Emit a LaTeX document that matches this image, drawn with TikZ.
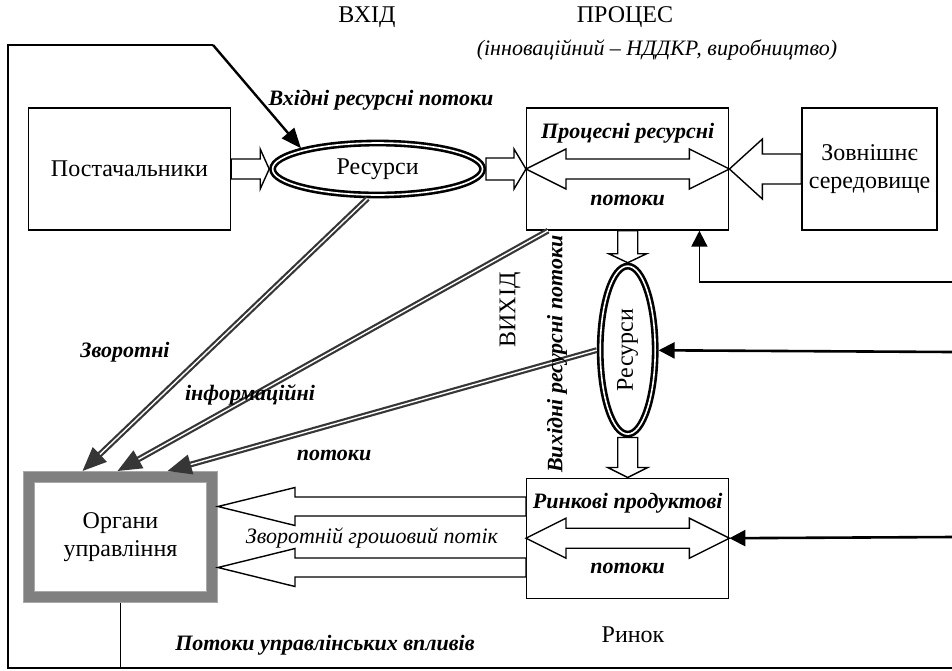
\documentclass[tikz,border=0pt]{standalone}
\usepackage{fontspec}
\setmainfont{Liberation Serif}
\usetikzlibrary{shapes.geometric, arrows.meta, positioning, calc}

\definecolor{infogray}{HTML}{363636}
\definecolor{bandgray}{HTML}{808080}
\definecolor{rimgray}{HTML}{A8A8A8}

% hollow block arrows: tail, tip, shaft half width, head half width, head length
\newcommand{\harrow}[5]{%
  \draw[blkarrow] let \p1=(#1), \p2=(#2), \n1={sign(\x2-\x1)} in
    ({\x1},{\y2+#3}) -- ({\x2-\n1*#5},{\y2+#3}) -- ({\x2-\n1*#5},{\y2+#4}) -- (\x2,\y2)
    -- ({\x2-\n1*#5},{\y2-#4}) -- ({\x2-\n1*#5},{\y2-#3}) -- ({\x1},{\y2-#3}) -- cycle;}
\newcommand{\varrow}[5]{%
  \draw[blkarrow] let \p1=(#1), \p2=(#2), \n1={sign(\y2-\y1)} in
    ({\x2+#3},{\y1}) -- ({\x2+#3},{\y2-\n1*#5}) -- ({\x2+#4},{\y2-\n1*#5}) -- (\x2,\y2)
    -- ({\x2-#4},{\y2-\n1*#5}) -- ({\x2-#3},{\y2-\n1*#5}) -- ({\x2-#3},{\y1}) -- cycle;}
% two-headed block arrow: left tip, right tip, shaft half, head half, head length
\newcommand{\dblarrow}[5]{%
  \draw[blkarrow] let \p1=(#1), \p2=(#2) in
    (\x1,\y1) -- ({\x1+#5},{\y1+#4}) -- ({\x1+#5},{\y1+#3}) -- ({\x2-#5},{\y1+#3})
    -- ({\x2-#5},{\y1+#4}) -- (\x2,\y1) -- ({\x2-#5},{\y1-#4}) -- ({\x2-#5},{\y1-#3})
    -- ({\x1+#5},{\y1-#3}) -- ({\x1+#5},{\y1-#4}) -- cycle;}

\begin{document}
\begin{tikzpicture}[x=0.5pt, y=-0.5pt,
    every node/.style={font=\fontsize{12}{14}\selectfont},
    box/.style={draw, line width=0.7pt, minimum width=101pt, minimum height=61pt, align=center, inner sep=1pt},
    resell/.style={ellipse, draw, line width=1.3pt, double=white, double distance=0.8pt, inner sep=0pt, outer sep=1.7pt},
    orgbox/.style={draw=rimgray, line width=0.6pt, double=bandgray, double distance=4.8pt, outer sep=3pt,
        minimum width=91.5pt, minimum height=60pt, align=center},
    lbl/.style={font=\fontsize{11}{13}\selectfont\bfseries\itshape},
    itl/.style={font=\fontsize{11}{13}\selectfont\itshape},
    blkarrow/.style={draw, line width=0.7pt, fill=white, line join=miter},
    info/.style={draw=infogray, double=white, double distance=0.7pt, line width=1.1pt,
        -{Triangle[length=12pt, width=10pt, fill=infogray]}},
    ctrl/.style={draw, line width=1.3pt, -{Triangle[length=8pt, width=8pt]}},
    frame/.style={draw, line width=0.7pt}]
    \useasboundingbox (0,0) rectangle (952,670);

    % headings
    \node (hin) at (367,17) {ВХІД};
    \node (hproc) at (625,17) {ПРОЦЕС};
    \node[itl] (hsub) at (657,50) {(інноваційний – НДДКР, виробництво)};

    % blocks
    \node[box] (sup) at (129.5,169) {Постачальники};
    \node[resell, minimum width=105pt, minimum height=26pt, right=19pt of sup] (res1) {Ресурси};
    \node[box, right=20pt of res1] (proc) {};
    \node[box, minimum width=67.5pt, right=36pt of proc] (env) {Зовнішнє\\середовище};
    \node[resell, minimum width=27.5pt, minimum height=84pt, below=16pt of proc,
        label={[rotate=90]center:Ресурси}] (res2) {};
    \node[box, minimum height=60pt, below=20pt of res2] (ryn) {};
    \node[orgbox] (org) at (120.5,537) {Органи\\управління};

    % frame
    \coordinate (ftl) at (8,45);
    \coordinate (ftr) at (213,45);
    \coordinate (fbl) at (8,668);
    \coordinate (fbr) at (952,668);
    \draw[frame] (fbr) -- (fbl) -- (ftl) -- (ftr);
    \draw[frame] (org.south) -- (org.south |- fbl);
    \draw[ctrl, line width=1.2pt, -{Triangle[length=10pt, width=8pt]}] (ftr) -- (res1.north west);

    % block arrows
    \harrow{sup.east}{res1.west}{5pt}{10pt}{4.5pt}
    \harrow{res1.east}{proc.west}{5.5pt}{10pt}{6pt}
    \harrow{env.west}{proc.east}{7.5pt}{15pt}{16.5pt}
    \dblarrow{proc.west}{proc.east}{5pt}{10pt}{20pt}
    \dblarrow{ryn.west}{ryn.east}{5pt}{10pt}{20pt}
    \varrow{proc.south}{res2.north}{5pt}{9.5pt}{4.5pt}
    \varrow{res2.south}{ryn.north}{5pt}{10pt}{5pt}
    \harrow{[yshift=15.25pt]ryn.west}{[yshift=15.25pt]org.east}{4.75pt}{9.5pt}{38.5pt}
    \harrow{[yshift=-15.25pt]ryn.west}{[yshift=-15.25pt]org.east}{4.75pt}{9.5pt}{38.5pt}

    % inputs from the right
    \coordinate (ina) at (952,282);
    \coordinate (inb) at (952,352);
    \coordinate (inc) at (952,537);
    \draw[ctrl, line width=0.9pt] (ina) -| ([xshift=-15pt]proc.south east);
    \draw[ctrl] (inb) -- (res2);
    \draw[ctrl] (inc) -- (ryn.east);

    % feedback information flows
    \draw[info] ([xshift=-5pt]res1.south) -- ([xshift=-19pt]org.north);
    \draw[info] ([xshift=11pt]proc.south west) -- ([xshift=-1.5pt]org.north);
    \draw[info] (res2.west) -- ([xshift=23.5pt]org.north);

    % texts
    \node[lbl] (lin) at (381,100) {Вхідні ресурсні потоки};
    \node[lbl] (lproc1) at ([yshift=18pt]proc.center) {Процесні ресурсні};
    \node[lbl] (lproc2) at ([yshift=-15.5pt]proc.center) {потоки};
    \node[lbl] (lryn1) at ([yshift=17.5pt]ryn.center) {Ринкові продуктові};
    \node[lbl] (lryn2) at ([yshift=-15pt]ryn.center) {потоки};
    \node[rotate=90] (lout) at (510,310) {ВИХІД};
    \node[lbl, rotate=90] (lvout) at (557,354) {Вихідні ресурсні потоки};
    \node[lbl] (lfb1) at (125,352) {Зворотні};
    \node[lbl] (lfb2) at (250,395) {інформаційні};
    \node[lbl] (lfb3) at (334,455) {потоки};
    \node[itl] (lmoney) at (372,538) {Зворотній грошовий потік};
    \node[lbl] (lctrl) at (325,645) {Потоки управлінських впливів};
    \node (lmarket) at (633,635) {Ринок};
\end{tikzpicture}
\end{document}
